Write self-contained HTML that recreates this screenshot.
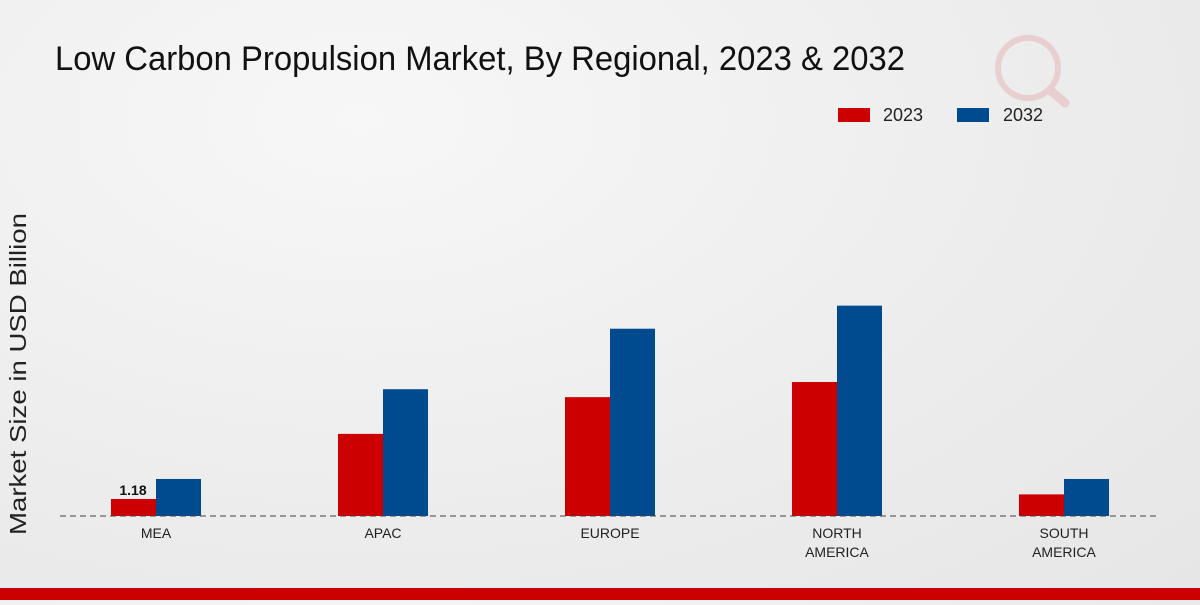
<!DOCTYPE html>
<html><head><meta charset="utf-8">
<style>
html,body{margin:0;padding:0}
body{width:1200px;height:600px;overflow:hidden;background:radial-gradient(ellipse at 30% 20%,#f7f7f7 0%,#ececec 60%,#e6e6e6 100%);font-family:"Liberation Sans",sans-serif}
</style></head>
<body>
<svg width="1200" height="600" xmlns="http://www.w3.org/2000/svg">
<text x="55" y="70" font-size="34" fill="#111" textLength="850" lengthAdjust="spacingAndGlyphs">Low Carbon Propulsion Market, By Regional, 2023 &amp; 2032</text>
<g opacity="0.12">
<circle cx="1028" cy="68" r="30" fill="none" stroke="#c00" stroke-width="6"/>
<line x1="1050" y1="90" x2="1065" y2="103" stroke="#c00" stroke-width="9" stroke-linecap="round"/>
</g>
<g>
<rect x="838" y="108" width="32" height="14" fill="#cc0000"/>
<text x="883" y="121" font-size="18" fill="#222">2023</text>
<rect x="957" y="108" width="32" height="14" fill="#004a8f"/>
<text x="1003" y="121" font-size="18" fill="#222">2032</text>
</g>
<text transform="translate(26,374) rotate(-90)" text-anchor="middle" font-size="23" fill="#222" textLength="322" lengthAdjust="spacingAndGlyphs">Market Size in USD Billion</text>
<g id="bars"></g>
<line x1="60" y1="516" x2="1160" y2="516" stroke="#444" stroke-dasharray="6,4"/>
<g id="labels"></g>
<rect x="0" y="588" width="1200" height="12" fill="#cc0000"/>
</svg>
<script>
const categories=[["MEA"],["APAC"],["EUROPE"],["NORTH","AMERICA"],["SOUTH","AMERICA"]];
const values2023=[1.18,5.7,8.25,9.3,1.5];
const values2032=[2.57,8.8,13.0,14.6,2.57];
const ns="http://www.w3.org/2000/svg";
const base=516, scale=17/1.18;
const y=v=>base-v*scale;
const xc=i=>156+i*227;
const bars=document.getElementById('bars'), labels=document.getElementById('labels');
function rect(x,v,color,name){
 const r=document.createElementNS(ns,'rect');
 r.setAttribute('x',x);r.setAttribute('y',y(v));r.setAttribute('width',45);r.setAttribute('height',base-y(v));r.setAttribute('fill',color);
 
 
 bars.appendChild(r);
}
categories.forEach((c,i)=>{
 rect(xc(i)-45,values2023[i],'#cc0000','bar-2023-'+c.join('-').toLowerCase());
 rect(xc(i),values2032[i],'#004a8f','bar-2032-'+c.join('-').toLowerCase());
 c.forEach((line,j)=>{
  const t=document.createElementNS(ns,'text');
  t.setAttribute('x',xc(i));t.setAttribute('y',538+j*19);t.setAttribute('text-anchor','middle');t.setAttribute('font-size','14');t.setAttribute('fill','#222');
  t.textContent=line;
  
  
  labels.appendChild(t);
 });
});
const vl=document.createElementNS(ns,'text');
vl.setAttribute('x',xc(0)-23);vl.setAttribute('y',y(values2023[0])-4);vl.setAttribute('text-anchor','middle');vl.setAttribute('font-size','14');vl.setAttribute('font-weight','bold');vl.setAttribute('fill','#111');
vl.textContent=values2023[0].toFixed(2);


labels.appendChild(vl);
</script>
</body></html>
